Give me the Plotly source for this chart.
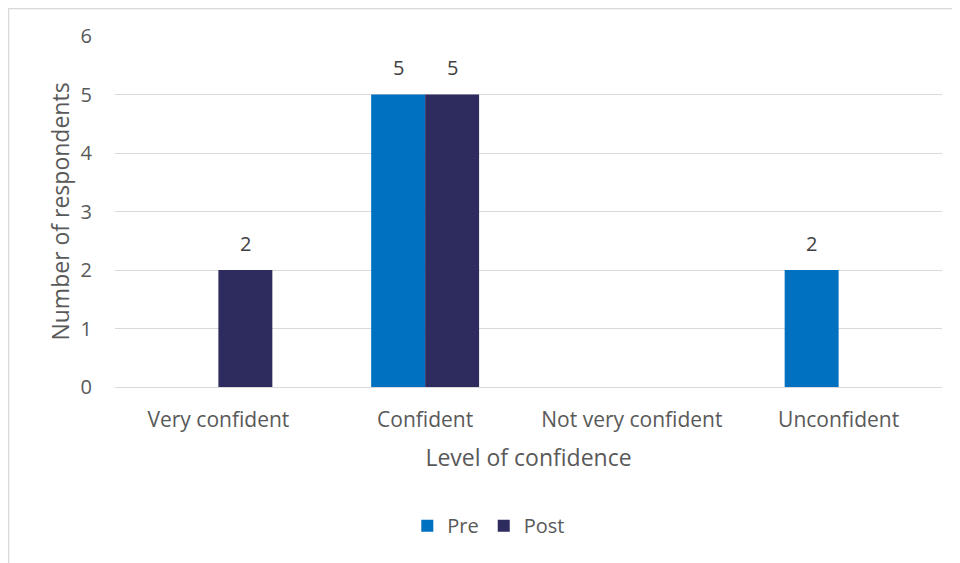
import plotly.graph_objects as go

categories = ["Very confident", "Confident", "Not very confident", "Unconfident"]
pre = [0, 5, 0, 2]
post = [2, 5, 0, 0]
series_names = ["Pre", "Post"]
colors = ["#0070C0", "#2E2B5F"]

font = "Open Sans, Noto Sans, sans-serif"
fig = go.Figure()
annotations = []
for i, (name, vals, col) in enumerate(zip(series_names, [pre, post], colors)):
    fig.add_trace(go.Bar(
        x=categories, y=vals, name=name, marker_color=col, marker_line_width=0,
    ))
    for c, v in zip(categories, vals):
        if v:
            annotations.append(dict(x=c, y=v, xref="x", yref="y", text=str(v), showarrow=False,
                                    xshift=(-27 if i == 0 else 27), yshift=27, yanchor="middle",
                                    font=dict(size=20, color="#404040", family=font)))

fig.update_layout(
    width=952, height=555,
    margin=dict(l=107, r=18, t=28, b=176),
    paper_bgcolor="white", plot_bgcolor="white",
    barmode="group", bargap=0.478, bargroupgap=0,
    font=dict(family=font, color="#595959", size=20),
    legend=dict(orientation="h", x=0.452, xanchor="center", y=-0.395, yanchor="middle",
                font=dict(size=20, color="#595959"), traceorder="normal", itemwidth=30),
    showlegend=True,
    annotations=annotations,
    xaxis=dict(title=dict(text="Level of confidence", font=dict(size=23, color="#595959"), standoff=17),
               tickfont=dict(size=21, color="#595959"), showgrid=False, showline=True,
               linecolor="#D9D9D9", linewidth=1, ticks="", ticklabelstandoff=14),
    yaxis=dict(title=dict(text="Number of respondents", font=dict(size=23, color="#595959"), standoff=4),
               range=[0, 6], dtick=1, tickfont=dict(size=20, color="#595959"),
               showgrid=True, gridcolor="#D9D9D9", gridwidth=1, zeroline=False,
               ticks="", ticklabelstandoff=22),
    shapes=[dict(type="rect", xref="paper", yref="paper", x0=-0.1288, x1=1.2, y0=-0.7, y1=1.078,
                 line=dict(color="#D9D9D9", width=1.5), fillcolor="rgba(0,0,0,0)", layer="below")],
)

fig.write_html("out.html")
